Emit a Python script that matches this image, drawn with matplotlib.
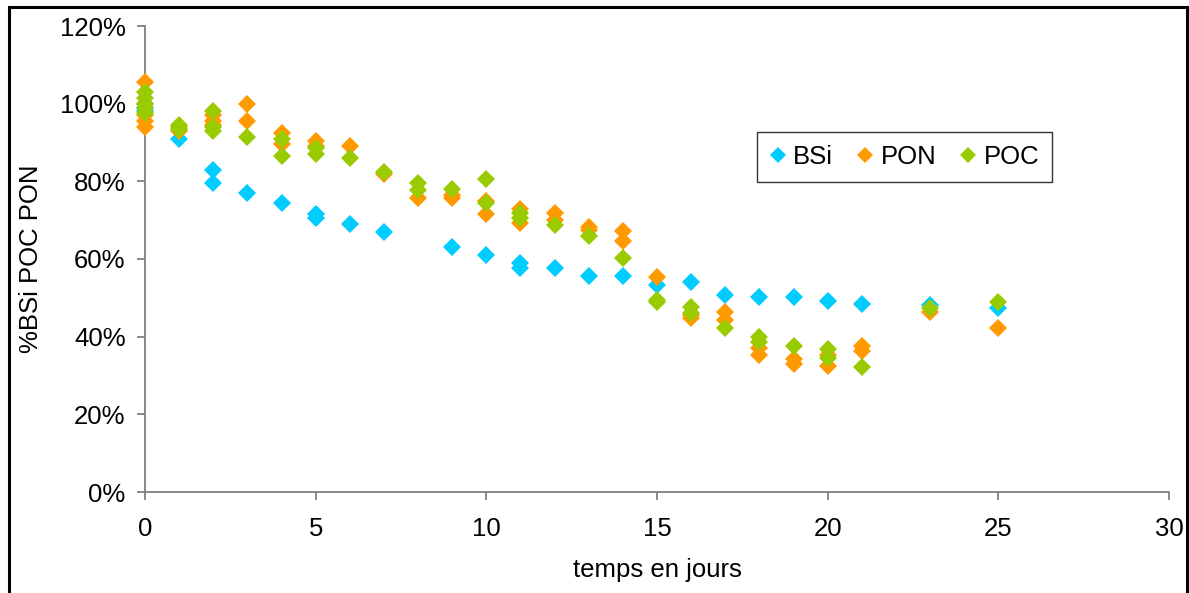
"""%BSi / PON / POC restants en fonction du temps (nuage de points type Excel)."""
import matplotlib
matplotlib.use("Agg")
import matplotlib.pyplot as plt
from matplotlib.patches import Rectangle
from matplotlib.lines import Line2D
import matplotlib.ticker as mticker

plt.rcParams["font.family"] = ["Liberation Sans", "DejaVu Sans"]

# ---- données (jours, % restant) ----
bsi_days = [0, 0, 0, 1, 2, 2, 3, 4, 5, 5, 6, 7, 9, 10, 11, 11, 12, 13, 14, 15,
            16, 17, 18, 19, 20, 21, 23, 25]
bsi_pct = [100, 99, 98, 91, 83, 79.5, 77, 74.5, 71.6, 70.6, 69, 67, 63, 61, 59, 57.8,
           57.8, 55.6, 55.6, 53.2, 54, 50.8, 50.2, 50.2, 49.3, 48.3, 48.2, 47.4]

pon_days = [0, 0, 0, 0, 0, 1, 1, 2, 2, 2, 3, 3, 4, 4, 5, 5, 6, 7, 8, 9, 9, 10, 10,
            11, 11, 12, 12, 13, 13, 14, 14, 15, 16, 16, 17, 17, 18, 18, 19, 19,
            20, 20, 21, 21, 23, 25]
pon_pct = [105.5, 100, 97, 95.5, 94, 94, 93, 97, 95.5, 94.5, 100, 95.5, 92.5, 89.5,
           90.5, 89, 89, 82, 75.8, 76.5, 75.7, 75, 71.5, 73, 69.2, 71.8, 70, 68.3,
           67.5, 67.2, 64.6, 55.3, 45.5, 44.7, 46.4, 44.3, 37, 35.4, 34.2, 33,
           35.3, 32.4, 37.5, 36.2, 46.3, 42.3]

poc_days = [0, 0, 0, 0, 0, 1, 1, 2, 2, 2, 3, 4, 4, 5, 5, 6, 7, 8, 8, 9, 10, 10,
            11, 11, 12, 13, 14, 15, 15, 16, 16, 17, 18, 18, 19, 20, 20, 21, 23, 25]
poc_pct = [103, 101.5, 100, 99, 97.5, 94.5, 93.5, 98, 94, 93, 91.5, 91, 86.5, 88.5,
           87, 86, 82.5, 79.5, 77.8, 78, 80.5, 74.5, 71.8, 70.5, 68.8, 65.8, 60.3,
           49.5, 48.8, 47.7, 46.2, 42.2, 39.8, 38.5, 37.6, 36.7, 34.6, 32.3, 47.3, 48.8]

SERIES = [
    ("BSi", bsi_days, bsi_pct, "#00CCFF"),
    ("PON", pon_days, pon_pct, "#FF9900"),
    ("POC", poc_days, poc_pct, "#99CC00"),
]

FS = 18.5
AXIS_GREY = "#808080"


def main():
    fig = plt.figure(figsize=(11.89, 5.93), dpi=100)
    ax = fig.add_axes([145 / 1189, 1 - 492 / 593, 1024 / 1189, 466 / 593])

    for name, days, pct, color in SERIES:
        ax.plot(days, pct, linestyle="none", marker="D", markersize=9,
                color=color, markeredgewidth=0, label=name, clip_on=False, zorder=3)

    ax.set_xlim(0, 30)
    ax.set_ylim(0, 120)
    ax.xaxis.set_major_locator(mticker.MultipleLocator(5))
    ax.yaxis.set_major_locator(mticker.MultipleLocator(20))
    ax.yaxis.set_major_formatter(mticker.PercentFormatter(xmax=100, decimals=0))

    for side in ("top", "right"):
        ax.spines[side].set_visible(False)
    for side in ("left", "bottom"):
        ax.spines[side].set_color(AXIS_GREY)
        ax.spines[side].set_linewidth(1.3)
    ax.tick_params(axis="both", direction="out", length=6, width=1.3,
                   color=AXIS_GREY, labelsize=FS, labelcolor="black")
    ax.tick_params(axis="y", pad=8)
    ax.tick_params(axis="x", pad=12)

    ax.set_xlabel("temps en jours", fontsize=FS, labelpad=12)
    ax.set_ylabel("%BSi POC PON", fontsize=FS, labelpad=12)

    # légende
    handles = [Line2D([], [], linestyle="none", marker="D", markersize=8,
                      color=c, markeredgewidth=0) for _, _, _, c in SERIES]
    leg = ax.legend(handles, [s[0] for s in SERIES], ncol=3, fontsize=FS,
                    loc="upper left", bbox_to_anchor=(612 / 1024, (492 - 132) / 466),
                    frameon=True, fancybox=False, edgecolor="black",
                    handlelength=0.6, handletextpad=0.3, columnspacing=0.95,
                    borderpad=0.5, borderaxespad=0)
    leg.get_frame().set_linewidth(1.0)

    # cadre du graphique
    frame = Rectangle((8.5 / 1189, -0.1), (1187 - 8.5) / 1189, 1.1 - 7.5 / 593,
                      transform=fig.transFigure, fill=False, edgecolor="black",
                      linewidth=2.2, zorder=10)
    fig.patches.append(frame)

    fig.savefig("out.png", dpi=100)
    plt.close(fig)


if __name__ == "__main__":
    main()
